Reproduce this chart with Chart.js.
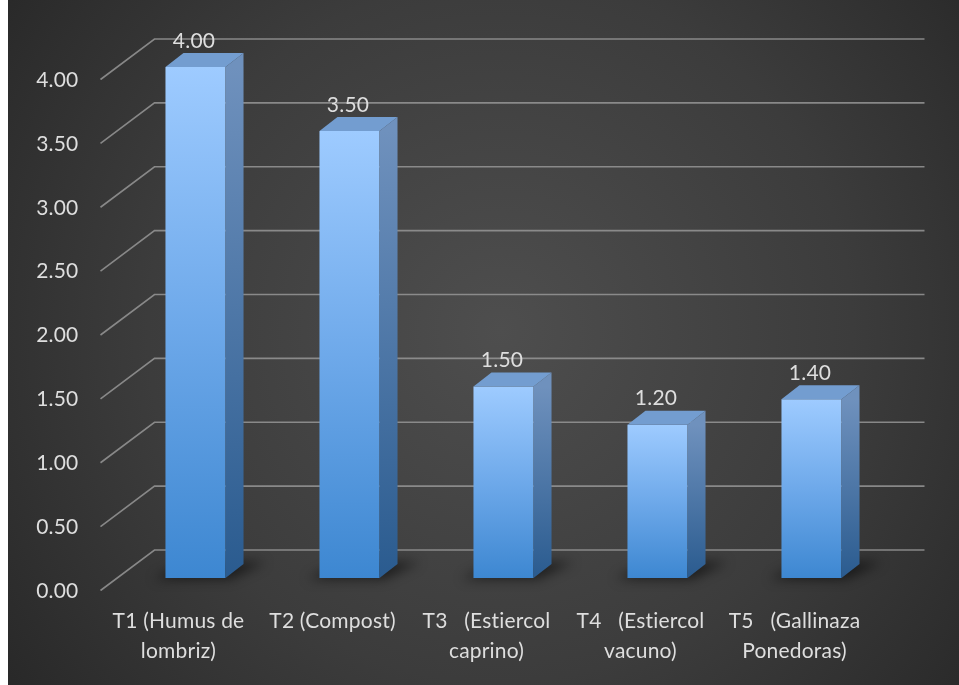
<!DOCTYPE html>
<html>
<head>
<meta charset="utf-8">
<script src="https://cdn.jsdelivr.net/npm/chart.js@4/dist/chart.umd.min.js"></script>
<style>
  html, body { margin: 0; padding: 0; background: #ffffff; }
  #wrap { width: 959px; height: 685px; position: relative; }
  canvas { display: block; font-variant-ligatures: none; }
</style>
</head>
<body>
<div id="wrap"><canvas id="c" width="959" height="685"></canvas></div>
<script>
// ---- data ----
const categories = [
  ["T1 (Humus de", "lombriz)"],
  ["T2 (Compost)"],
  ["T3   (Estiercol", "caprino)"],
  ["T4   (Estiercol", "vacuno)"],
  ["T5   (Gallinaza", "Ponedoras)"]
];
const values = [4.00, 3.50, 1.50, 1.20, 1.40];
const yTickMin = 0;
const yTickMax = 4;
const yTickStep = 0.5;

// ---- styling constants ----
const FONT = "Lato, 'Noto Sans', sans-serif";
const TEXT = "#dedede";
const DX = 18, DY = -14;          // bar depth offset
const BACK_DX = 36, BACK_DY = -28; // back wall offset from bar front plane
const FRONT_DX = -18, FRONT_DY = 12.5; // label plane offset from bar front plane

const bgPlugin = {
  id: 'bg',
  beforeDraw(chart) {
    const c = chart.ctx;
    try { c.textRendering = 'optimizeSpeed'; } catch (e) {}
    try { c.letterSpacing = '0.2px'; } catch (e) {}
    c.save();
    c.fillStyle = '#ffffff';
    c.fillRect(0, 0, 8, chart.height);
    const g = c.createRadialGradient(500, 330, 0, 500, 330, 640);
    g.addColorStop(0, '#4e4e4e');
    g.addColorStop(0.55, '#3c3c3c');
    g.addColorStop(1, '#262626');
    c.fillStyle = g;
    c.fillRect(8, 0, chart.width - 8, chart.height);
    c.restore();
  }
};

const gridPlugin = {
  id: 'grid3d',
  beforeDatasetsDraw(chart) {
    const c = chart.ctx;
    const ys = chart.scales.y;
    const xs = chart.scales.x;
    const xFront = xs.left + FRONT_DX;
    const xBackL = xs.left + BACK_DX;
    const xBackR = xs.right + BACK_DX;
    c.save();
    c.strokeStyle = 'rgba(150,150,150,0.85)';
    c.lineWidth = 1.6;
    for (let v = yTickMin; v <= yTickMax + 1e-9; v += yTickStep) {
      const yp = ys.getPixelForValue(v);
      c.beginPath();
      c.moveTo(xFront, yp + FRONT_DY);
      c.lineTo(xBackL, yp + BACK_DY);
      c.lineTo(xBackR, yp + BACK_DY);
      c.stroke();
    }
    // floor shadows
    const meta = chart.getDatasetMeta(0);
    c.filter = 'blur(6px)';
    c.fillStyle = 'rgba(0,0,0,0.55)';
    meta.data.forEach(el => {
      const l = el.x - el.width / 2, r = el.x + el.width / 2, b = el.base;
      c.beginPath();
      c.moveTo(l - 12, b + 1);
      c.lineTo(r + 4, b + 1);
      c.lineTo(r + DX + 22, b + DY - 2);
      c.lineTo(l + DX + 6, b + DY - 2);
      c.closePath();
      c.fill();
    });
    c.filter = 'none';
    c.restore();
  },
  afterDatasetsDraw(chart) {
    const c = chart.ctx;
    const meta = chart.getDatasetMeta(0);
    c.save();
    meta.data.forEach((el, i) => {
      const l = el.x - el.width / 2, r = el.x + el.width / 2;
      const t = el.y, b = el.base;
      // side face
      const gs = c.createLinearGradient(0, t, 0, b);
      gs.addColorStop(0, '#6f91bd');
      gs.addColorStop(1, '#2a5b8f');
      c.fillStyle = gs;
      c.beginPath();
      c.moveTo(r, t);
      c.lineTo(r + DX, t + DY);
      c.lineTo(r + DX, b + DY);
      c.lineTo(r, b);
      c.closePath();
      c.fill();
      // top face
      c.fillStyle = '#739dd0';
      c.beginPath();
      c.moveTo(l, t);
      c.lineTo(l + DX, t + DY);
      c.lineTo(r + DX, t + DY);
      c.lineTo(r, t);
      c.closePath();
      c.fill();
      // value label
      c.fillStyle = TEXT;
      c.font = "21px " + FONT;
      c.textAlign = 'center';
      c.textBaseline = 'middle';
      c.fillText(values[i].toFixed(2), el.x - 1.5, t - 26);
    });
    c.restore();
  }
};

new Chart(document.getElementById('c'), {
  type: 'bar',
  data: {
    labels: categories,
    datasets: [{
      data: values,
      barPercentage: 0.39,
      categoryPercentage: 1,
      borderWidth: 0,
      backgroundColor: (ctx) => {
        const chart = ctx.chart;
        if (!chart.chartArea || ctx.type !== 'data') return '#5b9bd5';
        const ys = chart.scales.y;
        const y0 = ys.getPixelForValue(0);
        const y1 = ys.getPixelForValue(ctx.raw);
        const g = chart.ctx.createLinearGradient(0, y1, 0, y0);
        g.addColorStop(0, '#9ecbff');
        g.addColorStop(0.5, '#6ea9ea');
        g.addColorStop(1, '#3d87d1');
        return g;
      }
    }]
  },
  options: {
    responsive: false,
    devicePixelRatio: 1,
    animation: false,
    layout: { padding: { top: 67, right: 70.5, bottom: 0, left: 0 } },
    plugins: { legend: { display: false }, tooltip: { enabled: false } },
    scales: {
      x: {
        offset: true,
        grid: { display: false, drawTicks: false },
        border: { display: false },
        ticks: {
          color: TEXT,
          font: { family: FONT, size: 21, lineHeight: 1.4 },
          padding: 29,
          labelOffset: -17,
          maxRotation: 0,
          autoSkip: false
        },
        afterFit(scale) { scale.height = 107; }
      },
      y: {
        min: yTickMin,
        max: yTickMax,
        grid: { display: false, drawTicks: false },
        border: { display: false },
        ticks: {
          stepSize: yTickStep,
          color: TEXT,
          font: { family: FONT, size: 21 },
          padding: 40,
          labelOffset: 13,
          callback: (v) => Number(v).toFixed(2)
        },
        afterFit(scale) { scale.width = 118.5; }
      }
    }
  },
  plugins: [bgPlugin, gridPlugin]
});
</script>
</body>
</html>
